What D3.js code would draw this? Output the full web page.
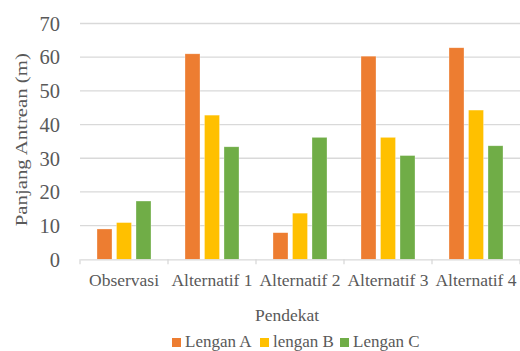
<!DOCTYPE html>
<html>
<head>
<meta charset="utf-8">
<script src="https://cdn.jsdelivr.net/npm/d3@7"></script>
<style>
  html, body { margin: 0; padding: 0; background: #fff; }
  svg { display: block; }
  svg text { font-family: "Liberation Serif", "Tinos", "DejaVu Serif", "Noto Serif", serif !important; fill: #595959; }
</style>
</head>
<body>
<svg id="chart" width="520" height="351"></svg>
<script>
// Queue length (m) per approach arm, for the observed state and four alternatives
const categories = ["Observasi", "Alternatif 1", "Alternatif 2", "Alternatif 3", "Alternatif 4"];
const seriesNames = ["Lengan A", "lengan B", "Lengan C"];
const lenganA = [9.0, 61.0, 7.9, 60.3, 62.8];
const lenganB = [10.9, 42.8, 13.7, 36.2, 44.3];
const lenganC = [17.3, 33.4, 36.2, 30.8, 33.7];
const yTicks = [0, 10, 20, 30, 40, 50, 60, 70];
const colors = ["#ED7D31", "#FFC000", "#70AD47"];

const seriesValues = [lenganA, lenganB, lenganC];
const rows = categories.map((c, i) => ({
  category: c,
  values: seriesNames.map((s, k) => ({ series: s, value: seriesValues[k][i] }))
}));

const svg = d3.select("#chart");
const plot = { left: 80, right: 520, top: 23.5, bottom: 259.3 };

const x0 = d3.scaleBand().domain(categories).range([plot.left, plot.right]).padding(0);
const groupW = 54;
const x1 = d3.scaleBand().domain(seriesNames)
  .range([(x0.bandwidth() - groupW) / 2, (x0.bandwidth() + groupW) / 2])
  .paddingInner(0.231).paddingOuter(0);
const y = d3.scaleLinear().domain([0, 70]).range([plot.bottom, plot.top]);
const color = d3.scaleOrdinal().domain(seriesNames).range(colors);

// Horizontal gridlines
svg.append("g").selectAll("line").data(yTicks.filter(t => t > 0)).join("line")
  .attr("x1", plot.left).attr("x2", plot.right)
  .attr("y1", d => y(d)).attr("y2", d => y(d))
  .attr("stroke", "#d9d9d9").attr("stroke-width", 1.3);

// Y axis labels
const yAxis = d3.axisLeft(y).tickValues(yTicks).tickSize(0).tickPadding(0).tickFormat(d3.format("d"));
const gy = svg.append("g").attr("transform", `translate(60,0)`).call(yAxis);
gy.attr("font-family", null);
gy.select(".domain").remove();
gy.selectAll("text").style("font-size", "20.5px").attr("fill", "#595959").attr("dy", "0.33em");

// Bars
const groups = svg.append("g").selectAll("g").data(rows).join("g")
  .attr("transform", d => `translate(${x0(d.category)},0)`);
groups.selectAll("rect").data(d => d.values).join("rect")
  .attr("x", d => x1(d.series))
  .attr("width", x1.bandwidth())
  .attr("y", d => y(d.value))
  .attr("height", d => y(0) - y(d.value))
  .attr("fill", d => color(d.series))
  .attr("stroke", "#ffffff").attr("stroke-opacity", 0.5).attr("stroke-width", 0.6);

// Category axis
const xAxis = d3.axisBottom(x0).tickSize(0).tickPadding(0);
const gx = svg.append("g").attr("transform", `translate(0,${plot.bottom})`).call(xAxis);
gx.attr("font-family", null);
gx.select(".domain").attr("stroke", "#d9d9d9").attr("stroke-width", 1.3);
gx.selectAll("text").style("font-size", "17.5px").attr("fill", "#595959").attr("dy", "26.5px");
// Boundary tick marks between categories
const bounds = categories.map(c => x0(c)).concat([plot.right]);
gx.selectAll("line.bound").data(bounds).join("line").attr("class", "bound")
  .attr("x1", d => d).attr("x2", d => d).attr("y1", 0).attr("y2", 5)
  .attr("stroke", "#d9d9d9").attr("stroke-width", 1.3);

// Axis titles
svg.append("text")
  .attr("transform", "translate(27,139.7) rotate(-90)")
  .attr("text-anchor", "middle")
  .attr("textLength", 173).attr("lengthAdjust", "spacingAndGlyphs")
  .style("font-size", "17.5px")
  .text("Panjang Antrean (m)");

svg.append("text")
  .attr("x", 287).attr("y", 320.7)
  .attr("text-anchor", "middle")
  .style("font-size", "17.5px")
  .text("Pendekat");

// Legend
const legendX = [172, 260, 340];
const legend = svg.append("g").selectAll("g").data(seriesNames).join("g")
  .attr("transform", (d, i) => `translate(${legendX[i]},0)`);
legend.append("rect").attr("x", 0).attr("y", 338).attr("width", 9).attr("height", 9)
  .attr("fill", d => color(d));
legend.append("text").attr("x", 13).attr("y", 346.8)
  .style("font-size", "17px").text(d => d);
</script>
</body>
</html>
